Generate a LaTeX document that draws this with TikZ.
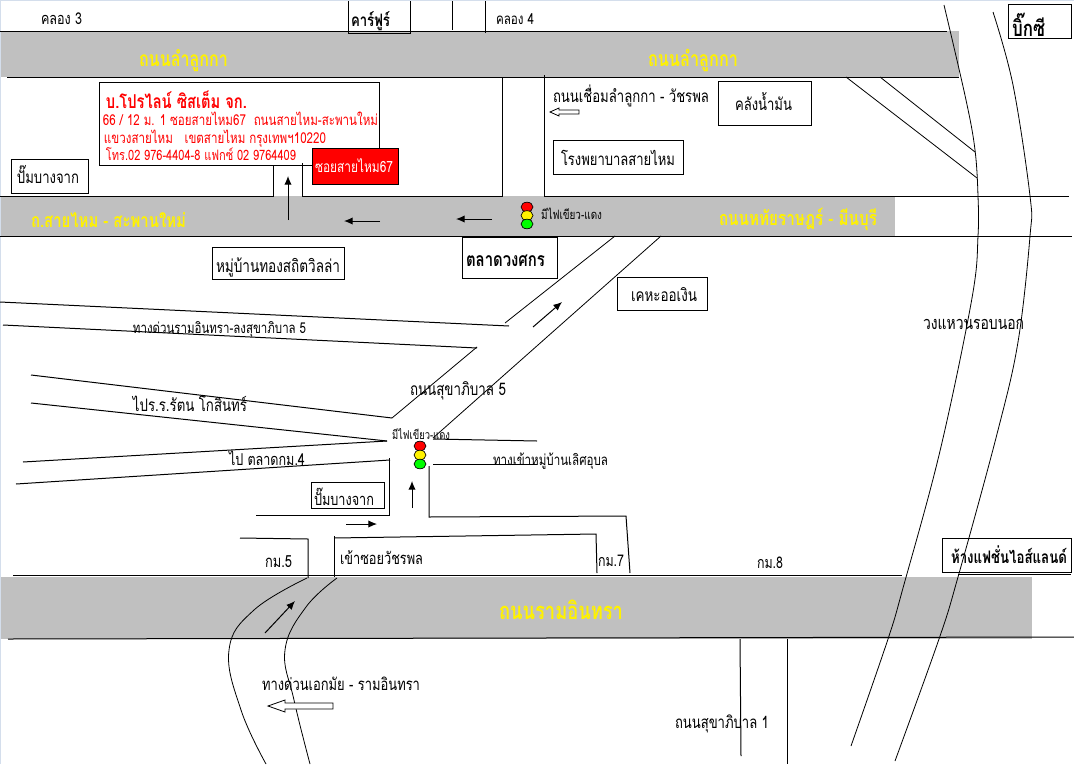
\documentclass[tikz,border=0pt]{standalone}
\usepackage{fontspec}
\usepackage{graphicx}
\setmainfont[Script=Thai]{Loma}
\usetikzlibrary{arrows.meta}
\definecolor{roadgray}{HTML}{C0C0C0}
\definecolor{edgeblue}{HTML}{D4DEEC}
\newcommand{\fitT}[2]{\scalebox{1}[1.3]{\resizebox{#1pt}{!}{#2}}}
\tikzset{
  lbl/.style={anchor=base,inner sep=0pt,outer sep=0pt,text=black},
  boldlbl/.style={lbl,font=\bfseries},
  roadlbl/.style={lbl,font=\bfseries,text=yellow},
  redlbl/.style={lbl,text=red},
  road/.style={fill=roadgray,draw=none},
  edge/.style={draw=black,line width=0.75pt},
  ring/.style={draw=black,line width=0.6pt},
  infobox/.style={draw=black,line width=0.75pt},
  go/.style={draw=black,line width=0.75pt,-{Latex[length=6.5pt,width=5.5pt]}},
  hollow/.style={draw=black,line width=0.6pt,fill=white},
  lamp/.style={draw=black,line width=0.5pt}
}
\begin{document}
\begin{tikzpicture}[x=0.75pt,y=-0.75pt]
\useasboundingbox (0,0) rectangle (1074,764);
\fill[white] (0,0) rectangle (1074,764);
\fill[edgeblue] (0,0) rectangle (1074,1);
\fill[edgeblue] (0,0) rectangle (1,764);
% roads
\path[road] (1,31) rectangle (959,77);
\path[road] (1,196) rectangle (895,236);
\path[road] (1,577) rectangle (1032,639);
% road edges
\draw[edge] (0,31) -- (947,31);
\draw[edge] (7,77) -- (959,77);
\draw[edge] (0,196) -- (273,196) -- (273,165);
\draw[edge] (302,163) -- (302,196) -- (503,196);
\draw[edge] (502,77) -- (502,196);
\draw[edge] (544,75) -- (544,196);
\draw[edge] (544,196) -- (1069,196);
\draw[edge] (0,236) -- (1072,236);
\draw[edge] (13,575) -- (902,575);
\draw[edge] (958,574) -- (1071,574);
\draw[edge] (8,639) -- (1074,637);
% top side streets
\draw[edge] (348,1) -- (348,33) -- (410,33) -- (410,1);
\draw[edge] (452,1) -- (452,30);
\draw[edge] (485,1) -- (485,33);
% expressway ramps on the right
\draw[ring] (846,77) -- (977,178);
\draw[ring] (880,77) -- (975,152);
% west side roads
\draw[edge] (0,302) -- (509,326);
\draw[edge] (3,325) -- (477,348);
\draw[edge] (31,375) -- (392,418);
\draw[edge] (31,403) -- (387,441);
\draw[edge] (23,462) -- (387,441);
\draw[edge] (16,484) -- (390,460);
% Sukhaphiban 5
\draw[ring] (615,236) -- (505,323);
\draw[ring] (661,236) -- (433,438);
\draw[ring] (477,347) -- (392,418);
% east side roads
\draw[edge] (433,439) -- (537,441);
\draw[edge] (433,464) -- (537,464);
\draw[edge] (389,458) -- (389,515) -- (256,515);
\draw[edge] (429,466) -- (429,517) -- (626,516) -- (630,573);
\draw[edge] (240,538) -- (308,539) -- (308,578);
\draw[edge] (334,536) -- (334,577);
\draw[edge] (334,538) -- (596,534) -- (597,573);
% Sukhaphiban 1
\draw[edge] (740,639) -- (741,756);
\draw[edge] (787,639) -- (787,764);
% boxes
\node[infobox,minimum width=210pt,minimum height=62.25pt,anchor=north west,inner sep=0pt] (company) at (99,82) {};
\node[infobox,fill=red,minimum width=64.5pt,minimum height=27pt,anchor=north west,inner sep=0pt] (redbox) at (312,148) {};
\node[infobox,minimum width=57.75pt,minimum height=25.5pt,anchor=north west,inner sep=0pt] (pumpA) at (11,159) {};
\node[infobox,minimum width=69.75pt,minimum height=33pt,anchor=north west,inner sep=0pt] (oil) at (718,81) {};
\node[infobox,minimum width=97.5pt,minimum height=25.5pt,anchor=north west,inner sep=0pt] (hospital) at (553,140) {};
\node[infobox,minimum width=47.25pt,minimum height=25.5pt,anchor=north west,inner sep=0pt] (bigc) at (1008,4) {};
\node[infobox,minimum width=99pt,minimum height=24pt,anchor=north west,inner sep=0pt] (village) at (212,247) {};
\node[infobox,minimum width=71.25pt,minimum height=30.75pt,anchor=north west,inner sep=0pt] (market) at (462,237) {};
\node[infobox,minimum width=67.5pt,minimum height=24.75pt,anchor=north west,inner sep=0pt] (kheha) at (617,277) {};
\node[infobox,minimum width=54.75pt,minimum height=19.5pt,anchor=north west,inner sep=0pt] (pumpB) at (311,482) {};
\node[infobox,minimum width=96.75pt,minimum height=25.5pt,anchor=north west,inner sep=0pt] (fashion) at (942,538) {};
% ring road
\draw[ring] plot[smooth,tension=0.6] coordinates {(944,5) (966,100) (975,150) (978,196) (978,236) (972,298) (940,451) (903,588) (888,639) (851,746)};
\draw[ring] plot[smooth,tension=0.6] coordinates {(993,12) (1013,85) (1030,196) (1030,236) (1018,342) (997,434) (958,577) (939,639) (895,761)};
% expressway curves
\draw[ring] plot[smooth,tension=0.7] coordinates {(307,578) (254,610) (229,650) (241,710) (266,764)};
\draw[ring] plot[smooth,tension=0.7] coordinates {(337,578) (306,607) (285,650) (294,700) (310,764)};
% arrows
\draw[go] (288,220) -- (288,176);
\draw[go] (380,221) -- (344,221);
\draw[go] (492,219) -- (456,219);
\draw[go] (533,327) -- (562,302);
\draw[go] (412,508) -- (412,481);
\draw[go] (346,524) -- (377,524);
\draw[go] (265,633) -- (295,601);
\draw[hollow] (550,112) -- (559,108) -- (559,110) -- (579,110) -- (579,114) -- (559,114) -- (559,116) -- cycle;
\draw[hollow] (268,706) -- (285,700) -- (285,703) -- (333,703) -- (333,709) -- (285,709) -- (285,712) -- cycle;
% traffic lights
\filldraw[lamp,fill=red] (527,207) ellipse (6 and 4.8);
\filldraw[lamp,fill=yellow] (527,215.5) ellipse (6 and 4.8);
\filldraw[lamp,fill=green] (527,224) ellipse (6 and 4.8);
\filldraw[lamp,fill=red] (420,446) ellipse (6 and 4.8);
\filldraw[lamp,fill=yellow] (420,455) ellipse (6 and 4.8);
\filldraw[lamp,fill=green] (420,464) ellipse (6 and 4.8);
% labels (widths in pt = px x 0.75)
\node[lbl] (k3) at (61.5,24) {\fitT{30.75}{คลอง 3}};
\node[boldlbl] (carrefour) at (370.5,26) {\fitT{29.25}{คาร์ฟูร์}};
\node[lbl] (k4) at (515,24) {\fitT{28.5}{คลอง 4}};
\node[roadlbl] (lamlukkaA) at (183.5,66) {\fitT{66.75}{ถนนลำลูกกา}};
\node[roadlbl] (lamlukkaB) at (693,66) {\fitT{67.5}{ถนนลำลูกกา}};
\node[boldlbl] (bigctxt) at (1028.5,36) {\fitT{24.75}{บิ๊กซี}};
\node[redlbl,font=\bfseries] (co1) at (176.5,108) {\fitT{105.75}{บ.โปรไลน์ ซิสเต็ม จก.}};
\node[redlbl] (co2) at (240.5,125) {\fitT{206.25}{66 / 12 ม. 1 ซอยสายไหม67~~ถนนสายไหม-สะพานใหม่}};
\node[redlbl] (co3) at (215,143) {\fitT{166.5}{แขวงสายไหม~~~เขตสายไหม กรุงเทพฯ10220}};
\node[redlbl] (co4) at (201,160) {\fitT{142.5}{โทร.02 976-4404-8 แฟกซ์ 02 9764409}};
\node[lbl,text=white] (soi) at (354,172) {\fitT{58.5}{ซอยสายไหม67}};
\node[lbl] (pumpAt) at (48,183) {\fitT{46.5}{ปั๊มบางจาก}};
\node[roadlbl] (saimai) at (108.5,227) {\fitT{116.25}{ถ.สายไหม - สะพานใหม่}};
\node[lbl] (light1) at (571.5,219) {\fitT{45.75}{มีไฟเขียว-แดง}};
\node[lbl] (link) at (631,102) {\fitT{117}{ถนนเชื่อมลำลูกกา - วัชรพล}};
\node[lbl] (oilt) at (763.5,110) {\fitT{42.75}{คลังน้ำมัน}};
\node[lbl] (hospt) at (618,165) {\fitT{85.5}{โรงพยาบาลสายไหม}};
\node[roadlbl] (hathai) at (798,225) {\fitT{118.5}{ถนนหทัยราษฎร์ - มีนบุรี}};
\node[lbl] (villaget) at (278,272) {\fitT{93}{หมู่บ้านทองสถิตวิลล่า}};
\node[boldlbl] (markett) at (505.5,266) {\fitT{59.25}{ตลาดวงศกร}};
\node[lbl] (khehat) at (664,301) {\fitT{49.5}{เคหะออเงิน}};
\node[lbl] (expr) at (219.5,333) {\fitT{129.75}{ทางด่วนรามอินทรา-ลงสุขาภิบาล 5}};
\node[lbl] (suk5) at (458,395) {\fitT{72}{ถนนสุขาภิบาล 5}};
\node[lbl] (ratana) at (190,411) {\fitT{85.5}{ไปร.ร.รัตน โกสินทร์}};
\node[lbl] (light2) at (421,439) {\fitT{43.5}{มีไฟเขียว-แดง}};
\node[lbl] (km4) at (267,465) {\fitT{57}{ไป ตลาดกม.4}};
\node[lbl] (lert) at (550.5,465) {\fitT{86.25}{ทางเข้าหมู่บ้านเลิศอุบล}};
\node[lbl] (pumpBt) at (344,505) {\fitT{45}{ปั๊มบางจาก}};
\node[lbl] (km5) at (278.5,567) {\fitT{20.25}{กม.5}};
\node[lbl] (watchara) at (381.5,564) {\fitT{62.25}{เข้าซอยวัชรพล}};
\node[lbl] (km7) at (611,566) {\fitT{19.5}{กม.7}};
\node[lbl] (km8) at (770,568) {\fitT{19.5}{กม.8}};
\node[roadlbl] (ram) at (561,619) {\fitT{93}{ถนนรามอินทรา}};
\node[lbl] (ekkamai) at (341,690) {\fitT{118.5}{ทางด่วนเอกมัย - รามอินทรา}};
\node[lbl] (suk1) at (722,728) {\fitT{70.5}{ถนนสุขาภิบาล 1}};
\node[lbl] (ringt) at (973.5,329) {\fitT{75.75}{วงแหวนรอบนอก}};
\node[boldlbl] (fashiont) at (1009,563) {\fitT{87}{ห้างแฟชั่นไอส์แลนด์}};
\end{tikzpicture}
\end{document}
